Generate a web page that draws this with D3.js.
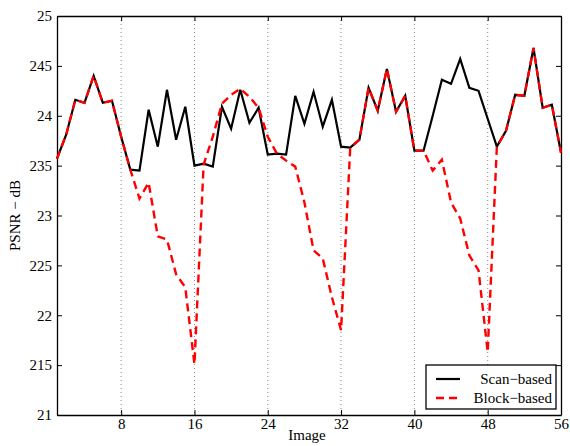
<!DOCTYPE html>
<html>
<head>
<meta charset="utf-8">
<script src="https://cdn.jsdelivr.net/npm/d3@7"></script>
<style>
  body { margin: 0; background: #fff; }
  svg text { font-family: "Liberation Serif", "Times New Roman", serif; }
</style>
</head>
<body>
<div id="chart"></div>
<script>
// values
var images = d3.range(1, 57);
var scanBased = [
  23.57, 23.81, 24.16, 24.13, 24.40, 24.13, 24.15, 23.79, 23.46, 23.45,
  24.06, 23.69, 24.26, 23.76, 24.09, 23.50, 23.52, 23.49, 24.09, 23.87,
  24.26, 23.93, 24.08, 23.61, 23.62, 23.61, 24.20, 23.92, 24.24, 23.89,
  24.16, 23.69, 23.68, 23.76, 24.28, 24.05, 24.47, 24.04, 24.20, 23.65,
  23.65, 24.00, 24.36, 24.32, 24.57, 24.28, 24.25, 23.97, 23.69, 23.85,
  24.21, 24.20, 24.68, 24.08, 24.11, 23.63
];
var blockBased = [
  23.57, 23.81, 24.16, 24.13, 24.40, 24.13, 24.15, 23.79, 23.46, 23.17,
  23.33, 22.79, 22.76, 22.41, 22.28, 21.51, 23.51, 23.79, 24.12, 24.21,
  24.27, 24.19, 24.08, 23.79, 23.62, 23.55, 23.49, 23.13, 22.65, 22.57,
  22.18, 21.85, 23.68, 23.76, 24.28, 24.05, 24.47, 24.04, 24.20, 23.65,
  23.65, 23.45, 23.56, 23.13, 22.97, 22.60, 22.45, 21.63, 23.69, 23.85,
  24.21, 24.20, 24.68, 24.08, 24.11, 23.63
];
var xTicks = [8, 16, 24, 32, 40, 48, 56];
var gridTicks = [8, 16, 24, 32, 40, 48];
var yTicks = [21, 21.5, 22, 22.5, 23, 23.5, 24, 24.5, 25];
var yTickLabels = ['21', '215', '22', '225', '23', '235', '24', '245', '25'];
var seriesNames = ['Scan\u2212based', 'Block\u2212based'];

(function() {
  var W = 570, H = 446;
  var pLeft = 57, pRight = 561, pTop = 16, pBottom = 415;

  var svg = d3.select('#chart').append('svg').attr('width', W).attr('height', H);

  var x = d3.scaleLinear().domain([1, 56]).range([pLeft, pRight]);
  var y = d3.scaleLinear().domain([21, 25]).range([pBottom, pTop]);

  // dotted grid
  svg.append('g').selectAll('line').data(gridTicks).enter().append('line')
    .attr('x1', function(d) { return x(d); }).attr('x2', function(d) { return x(d); })
    .attr('y1', pTop).attr('y2', pBottom)
    .attr('stroke', '#888').attr('stroke-width', 1).attr('stroke-dasharray', '1,3');

  var fmtY = function(d) { return yTickLabels[yTicks.indexOf(d)]; };

  var axes = [
    svg.append('g').attr('transform', 'translate(0,' + pBottom + ')')
      .call(d3.axisBottom(x).tickValues(xTicks).tickSizeInner(-5).tickSizeOuter(0).tickPadding(3)),
    svg.append('g').attr('transform', 'translate(0,' + pTop + ')')
      .call(d3.axisTop(x).tickValues(xTicks).tickSizeInner(-5).tickSizeOuter(0).tickFormat('')),
    svg.append('g').attr('transform', 'translate(' + pLeft + ',0)')
      .call(d3.axisLeft(y).tickValues(yTicks).tickFormat(fmtY).tickSizeInner(-5).tickSizeOuter(0).tickPadding(5)),
    svg.append('g').attr('transform', 'translate(' + pRight + ',0)')
      .call(d3.axisRight(y).tickValues(yTicks).tickSizeInner(-5).tickSizeOuter(0).tickFormat(''))
  ];
  axes.forEach(function(g) {
    g.select('.domain').attr('stroke', '#000').attr('stroke-width', 1.3);
    g.selectAll('.tick line').attr('stroke', '#000');
    g.selectAll('text').attr('fill', '#000').style('font-size', '15px')
      .style('font-family', '"Liberation Serif", serif');
  });

  var line = d3.line()
    .x(function(d, i) { return x(images[i]); })
    .y(function(d) { return y(d); });

  svg.append('path').datum(scanBased).attr('d', line)
    .attr('fill', 'none').attr('stroke', '#000').attr('stroke-width', 2.2);
  svg.append('path').datum(blockBased).attr('d', line)
    .attr('fill', 'none').attr('stroke', '#ff0000').attr('stroke-width', 2.4)
    .attr('stroke-dasharray', '8,5');

  // axis titles
  svg.append('text').attr('x', (pLeft + pRight) / 2 - 2).attr('y', 440)
    .attr('text-anchor', 'middle').style('font-size', '15px').text('Image');
  svg.append('text').attr('transform', 'translate(20,' + ((pTop + pBottom) / 2) + ') rotate(-90)')
    .attr('text-anchor', 'middle').style('font-size', '15px').text('PSNR \u2212 dB');

  // legend
  var lg = svg.append('g');
  lg.append('rect').attr('x', 426).attr('y', 365).attr('width', 130).attr('height', 44)
    .attr('fill', '#fff').attr('stroke', '#000').attr('stroke-width', 1.3);
  var styles = [
    { color: '#000', dash: null, w: 2.2 },
    { color: '#ff0000', dash: '8,5', w: 2.4 }
  ];
  seriesNames.forEach(function(name, i) {
    var yy = 379 + i * 19;
    lg.append('line').attr('x1', 436).attr('x2', 460).attr('y1', yy).attr('y2', yy)
      .attr('stroke', styles[i].color).attr('stroke-width', styles[i].w)
      .attr('stroke-dasharray', styles[i].dash);
    lg.append('text').attr('x', 552).attr('y', yy + 5).attr('text-anchor', 'end')
      .style('font-size', '15px').text(name);
  });
})();
</script>
</body>
</html>
